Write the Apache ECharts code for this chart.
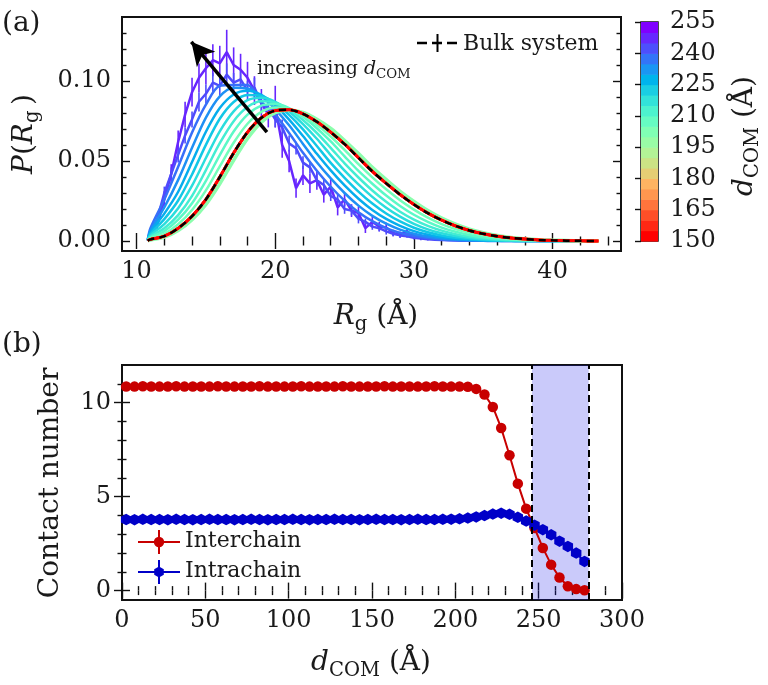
<!DOCTYPE html>
<html>
<head>
<meta charset="utf-8">
<script src="https://cdn.jsdelivr.net/npm/echarts@6.0.0/dist/echarts.min.js"></script>
<style>
html,body{margin:0;padding:0;background:#ffffff;}
#chart{width:768px;height:685px;}
</style>
</head>
<body>
<div id="chart"></div>
<script>
// ================= Panel (a): P(Rg) for several d_COM =================
const rgGrid = [10.8, 11, 12, 13, 14, 15, 16, 17, 18, 19, 20, 21, 22, 23, 24, 25, 26, 27, 28, 29, 30, 31, 32, 33, 34, 35, 36, 37, 38, 39, 40, 41, 42, 43.3];
const rgFine = [10.8, 11, 11.5, 12, 12.5, 13, 13.5, 14, 14.5, 15, 15.5, 16, 16.5, 17, 17.5, 18, 18.5, 19, 19.5, 20, 20.5, 21, 21.5, 22, 22.5, 23, 23.5, 24, 24.5, 25, 25.5, 26, 26.5, 27, 27.5, 28, 28.5, 29, 29.5, 30, 30.5, 31, 31.5, 32, 32.5, 33, 33.5, 34];

// bulk system (also the d_COM = 150..195 curves, which lie on top of it)
const pBulk = [0.0003, 0.001, 0.003, 0.008, 0.0155, 0.026, 0.040, 0.055, 0.068, 0.077, 0.0815, 0.082, 0.0795, 0.0745, 0.068, 0.0605, 0.052, 0.0435, 0.036, 0.029, 0.0228, 0.0174, 0.013, 0.0094, 0.0066, 0.0045, 0.003, 0.0019, 0.0012, 0.0007, 0.0004, 0.0002, 0.0001, 0.0];
const p200 = [0.0002, 0.0007, 0.0024, 0.0065, 0.0133, 0.0229, 0.0358, 0.0505, 0.0641, 0.0743, 0.0802, 0.0819, 0.0803, 0.076, 0.0703, 0.0628, 0.0546, 0.046, 0.0383, 0.031, 0.0247, 0.019, 0.0143, 0.0105, 0.0074, 0.0051, 0.0034, 0.0022, 0.0014, 0.0008, 0.0005, 0.0003, 0.0001, 0.0];
const p205 = [0.0003, 0.0016, 0.0045, 0.0105, 0.0194, 0.0316, 0.0466, 0.0614, 0.0733, 0.0807, 0.0835, 0.0826, 0.0787, 0.0726, 0.0653, 0.0569, 0.0480, 0.0398, 0.0323, 0.0255, 0.0196, 0.0146, 0.0106, 0.0075, 0.0051, 0.0034, 0.0022, 0.0013, 0.0008, 0.0004, 0.0002, 0.0001, 0, 0];
const p210 = [0.0003, 0.0022, 0.0062, 0.0133, 0.0236, 0.0376, 0.0537, 0.0684, 0.0790, 0.0846, 0.0856, 0.0831, 0.0776, 0.0705, 0.0622, 0.0529, 0.0438, 0.0358, 0.0284, 0.0219, 0.0164, 0.0120, 0.0084, 0.0058, 0.0038, 0.0024, 0.0015, 0.0009, 0.0005, 0.0003, 0.0001, 0, 0, 0];
const p215 = [0.0003, 0.0027, 0.0080, 0.0162, 0.0282, 0.0443, 0.0611, 0.0749, 0.0837, 0.0873, 0.0864, 0.0822, 0.0756, 0.0675, 0.0582, 0.0485, 0.0397, 0.0316, 0.0245, 0.0183, 0.0134, 0.0095, 0.0065, 0.0043, 0.0027, 0.0017, 0.0010, 0.0006, 0.0003, 0.0001, 0.0001, 0, 0, 0];
const p220 = [0.0003, 0.0035, 0.0105, 0.0205, 0.0346, 0.0519, 0.0685, 0.0810, 0.0880, 0.0895, 0.0870, 0.0810, 0.0731, 0.0639, 0.0537, 0.0440, 0.0354, 0.0276, 0.0208, 0.0152, 0.0107, 0.0073, 0.0048, 0.0031, 0.0019, 0.0011, 0.0006, 0.0003, 0.0001, 0.0001, 0, 0, 0, 0];
const p225 = [0.0003, 0.0045, 0.0137, 0.0253, 0.0416, 0.0601, 0.0764, 0.0869, 0.0913, 0.0907, 0.0861, 0.0788, 0.0698, 0.0594, 0.0488, 0.0395, 0.0309, 0.0234, 0.0172, 0.0122, 0.0083, 0.0055, 0.0035, 0.0021, 0.0012, 0.0007, 0.0003, 0.0001, 0, 0, 0, 0, 0, 0];
const p230 = [0.0004, 0.0055, 0.0171, 0.0308, 0.0494, 0.0683, 0.0831, 0.0916, 0.0939, 0.0913, 0.0847, 0.0759, 0.0656, 0.0545, 0.0441, 0.0347, 0.0264, 0.0194, 0.0138, 0.0095, 0.0062, 0.0040, 0.0024, 0.0014, 0.0008, 0.0004, 0.0002, 0.0001, 0, 0, 0, 0, 0, 0];
const p235 = [0.0004, 0.0065, 0.0210, 0.0382, 0.0583, 0.0771, 0.0904, 0.0958, 0.0953, 0.0904, 0.0823, 0.0723, 0.0607, 0.0492, 0.0391, 0.0300, 0.0221, 0.0157, 0.0108, 0.0071, 0.0045, 0.0027, 0.0016, 0.0008, 0.0005, 0.0002, 0.0001, 0, 0, 0, 0, 0, 0, 0];
const p240 = [0.0005, 0.0080, 0.0260, 0.0464, 0.0678, 0.0852, 0.0970, 0.0975, 0.0975, 0.0870, 0.0790, 0.0675, 0.0551, 0.0439, 0.0339, 0.0252, 0.0180, 0.0124, 0.0081, 0.0051, 0.0031, 0.0018, 0.0010, 0.0005, 0.0002, 0.0001, 0, 0, 0, 0, 0, 0, 0, 0];
const p245 = [0.0005, 0.006, 0.014, 0.030, 0.042, 0.054, 0.066, 0.076, 0.087, 0.092, 0.099, 0.097, 0.104, 0.099, 0.101, 0.094, 0.096, 0.086, 0.083, 0.076, 0.071, 0.061, 0.058, 0.049, 0.046, 0.038, 0.035, 0.028, 0.026, 0.020, 0.019, 0.014, 0.012, 0.009, 0.008, 0.006, 0.0045, 0.0035, 0.003, 0.002, 0.0015, 0.0011, 0.0008, 0.0006, 0.0004, 0.0003, 0.0002, 0.0001];
const e245 = [0.0003, 0.002, 0.003, 0.004, 0.004, 0.005, 0.005, 0.005, 0.006, 0.006, 0.006, 0.006, 0.007, 0.006, 0.006, 0.006, 0.006, 0.005, 0.005, 0.005, 0.005, 0.005, 0.004, 0.004, 0.004, 0.004, 0.004, 0.003, 0.003, 0.003, 0.003, 0.003, 0.002, 0.002, 0.002, 0.002, 0.0015, 0.0015, 0.001, 0.001, 0.001, 0.0008, 0.0006, 0.0005, 0.0004, 0.0003, 0.0002, 0.0001];
const p250 = [0.0005, 0.004, 0.010, 0.026, 0.042, 0.062, 0.079, 0.093, 0.102, 0.108, 0.113, 0.111, 0.118, 0.110, 0.107, 0.102, 0.094, 0.086, 0.079, 0.084, 0.060, 0.050, 0.033, 0.041, 0.036, 0.038, 0.029, 0.034, 0.021, 0.026, 0.019, 0.0175, 0.008, 0.012, 0.009, 0.0085, 0.005, 0.004, 0.006, 0.003, 0.0025, 0.003, 0.0015, 0.002, 0.0008, 0.001, 0.0005, 0.0003];
const e250 = [0.0003, 0.002, 0.003, 0.005, 0.006, 0.007, 0.008, 0.009, 0.009, 0.010, 0.010, 0.011, 0.014, 0.011, 0.010, 0.010, 0.009, 0.009, 0.008, 0.013, 0.008, 0.007, 0.006, 0.006, 0.006, 0.006, 0.005, 0.005, 0.005, 0.004, 0.004, 0.004, 0.003, 0.003, 0.003, 0.003, 0.002, 0.002, 0.002, 0.0015, 0.0015, 0.0015, 0.001, 0.001, 0.0008, 0.0008, 0.0005, 0.0003];

const dCurves = [250, 245, 240, 235, 230, 225, 220, 215, 210, 205, 200, 195, 190, 185, 180, 175, 170, 165, 160, 155, 150];
const curveData = {
  250: [rgFine, p250], 245: [rgFine, p245], 240: [rgGrid, p240], 235: [rgGrid, p235], 230: [rgGrid, p230],
  225: [rgGrid, p225], 220: [rgGrid, p220], 215: [rgGrid, p215], 210: [rgGrid, p210], 205: [rgGrid, p205],
  200: [rgGrid, p200], 195: [rgGrid, pBulk], 190: [rgGrid, pBulk], 185: [rgGrid, pBulk], 180: [rgGrid, pBulk],
  175: [rgGrid, pBulk], 170: [rgGrid, pBulk], 165: [rgGrid, pBulk], 160: [rgGrid, pBulk], 155: [rgGrid, pBulk], 150: [rgGrid, pBulk]
};

// colorbar bands and ticks
const cbEdges = [150, 155, 160, 165, 170, 175, 180, 185, 190, 195, 200, 205, 210, 215, 220, 225, 230, 235, 240, 245, 250, 255];
const cbMajor = [150, 165, 180, 195, 210, 225, 240, 255];
const cbMinor = [153.75, 157.5, 161.25, 168.75, 172.5, 176.25, 183.75, 187.5, 191.25, 198.75, 202.5, 206.25, 213.75, 217.5, 221.25, 228.75, 232.5, 236.25, 243.75, 247.5, 251.25];

// panel (a) axis ticks
const aXMajor = [10, 20, 30, 40];
const aXMinor = [12, 14, 16, 18, 22, 24, 26, 28, 32, 34, 36, 38, 42, 44];
const aYMajor = [0, 0.05, 0.10];
const aYMinor = [0.01, 0.02, 0.03, 0.04, 0.06, 0.07, 0.08, 0.09, 0.11, 0.12, 0.13];

// ================= Panel (b): contact numbers =================
const dCOM = [2.5, 7.5, 12.5, 17.5, 22.5, 27.5, 32.5, 37.5, 42.5, 47.5,
  52.5, 57.5, 62.5, 67.5, 72.5, 77.5, 82.5, 87.5, 92.5, 97.5,
  102.5, 107.5, 112.5, 117.5, 122.5, 127.5, 132.5, 137.5, 142.5, 147.5,
  152.5, 157.5, 162.5, 167.5, 172.5, 177.5, 182.5, 187.5, 192.5, 197.5,
  202.5, 207.5, 212.5, 217.5, 222.5, 227.5, 232.5, 237.5, 242.5, 247.5,
  252.5, 257.5, 262.5, 267.5, 272.5, 277.5];
const interchain = [10.86, 10.85, 10.87, 10.86, 10.85, 10.86, 10.87, 10.85, 10.86, 10.86,
  10.85, 10.87, 10.86, 10.85, 10.86, 10.86, 10.87, 10.85, 10.86, 10.85,
  10.86, 10.87, 10.85, 10.86, 10.86, 10.85, 10.87, 10.86, 10.85, 10.86,
  10.86, 10.87, 10.85, 10.86, 10.86, 10.85, 10.86, 10.87, 10.86, 10.85,
  10.86, 10.84, 10.73, 10.43, 9.77, 8.65, 7.20, 5.69, 4.36, 3.33,
  2.27, 1.38, 0.70, 0.23, 0.08, 0.02];
const intrachain = [3.78, 3.77, 3.79, 3.78, 3.78, 3.77, 3.79, 3.78, 3.77, 3.78,
  3.79, 3.78, 3.78, 3.77, 3.78, 3.79, 3.78, 3.77, 3.78, 3.78,
  3.79, 3.78, 3.77, 3.78, 3.78, 3.79, 3.78, 3.78, 3.77, 3.78,
  3.79, 3.78, 3.78, 3.77, 3.78, 3.79, 3.78, 3.78, 3.79, 3.80,
  3.82, 3.86, 3.92, 3.99, 4.07, 4.12, 4.06, 3.90, 3.70, 3.48,
  3.24, 2.97, 2.63, 2.35, 2.00, 1.55];
const shadeRange = [246, 280];

const bXMajor = [0, 50, 100, 150, 200, 250, 300];
const bXMinor = [10, 20, 30, 40, 60, 70, 80, 90, 110, 120, 130, 140, 160, 170, 180, 190, 210, 220, 230, 240, 260, 270, 280, 290];
const bYMajor = [0, 5, 10];
const bYMinor = [1, 2, 3, 4, 6, 7, 8, 9, 11];

// ================= styling helpers =================
const FONT = 'DejaVu Serif';
const INK = '#1a1a1a';
const RED = '#c80000';
const BLUE = '#0000c8';

function rainbow(t) {
  const r = Math.min(1, Math.abs(2 * t - 0.5));
  const g = Math.max(0, Math.sin(Math.PI * t));
  const b = Math.max(0, Math.cos(Math.PI * t / 2));
  return 'rgb(' + Math.round(r * 255) + ',' + Math.round(g * 255) + ',' + Math.round(b * 255) + ')';
}
// continuous colour scale 150 (red) .. 255 (violet)
function dColor(d) { return rainbow(Math.max(0, Math.min(1, (255 - d) / 105))); }
// discrete colorbar band colours
function bandColor(i, n) { return rainbow(1 - i / (n - 1)); }

function vAxis(o) {
  return {
    type: 'value', gridIndex: o.grid, position: o.pos, min: o.min, max: o.max,
    axisLine: { show: false }, splitLine: { show: false }, splitArea: { show: false },
    axisTick: { show: true, inside: true, length: o.len, customValues: o.ticks, lineStyle: { color: '#111', width: 1.4 } },
    axisLabel: o.labels ? { show: true, customValues: o.labels, formatter: o.fmt, fontFamily: FONT, fontSize: 24, color: INK, margin: o.margin } : { show: false },
    axisPointer: { show: false }
  };
}

const xAxes = [
  vAxis({ grid: 0, pos: 'bottom', min: 8.95, max: 44.93, len: 8, ticks: aXMajor, labels: aXMajor, fmt: v => String(v), margin: 9 }),
  vAxis({ grid: 0, pos: 'bottom', min: 8.95, max: 44.93, len: 4.5, ticks: aXMinor }),
  vAxis({ grid: 0, pos: 'top', min: 8.95, max: 44.93, len: 8, ticks: aXMajor }),
  vAxis({ grid: 0, pos: 'top', min: 8.95, max: 44.93, len: 4.5, ticks: aXMinor }),
  vAxis({ grid: 1, pos: 'bottom', min: 0, max: 300, len: 8, ticks: bXMajor, labels: bXMajor, fmt: v => String(v), margin: 9 }),
  vAxis({ grid: 1, pos: 'bottom', min: 0, max: 300, len: 4.5, ticks: bXMinor }),
  vAxis({ grid: 1, pos: 'top', min: 0, max: 300, len: 8, ticks: bXMajor }),
  vAxis({ grid: 1, pos: 'top', min: 0, max: 300, len: 4.5, ticks: bXMinor }),
  { type: 'value', gridIndex: 2, min: 0, max: 1, show: false }
];
const yAxes = [
  vAxis({ grid: 0, pos: 'left', min: -0.00625, max: 0.14, len: 8, ticks: aYMajor, labels: aYMajor, fmt: v => v.toFixed(2), margin: 11 }),
  vAxis({ grid: 0, pos: 'left', min: -0.00625, max: 0.14, len: 4.5, ticks: aYMinor }),
  vAxis({ grid: 0, pos: 'right', min: -0.00625, max: 0.14, len: 8, ticks: aYMajor }),
  vAxis({ grid: 0, pos: 'right', min: -0.00625, max: 0.14, len: 4.5, ticks: aYMinor }),
  vAxis({ grid: 1, pos: 'left', min: -0.5, max: 12, len: 8, ticks: bYMajor, labels: bYMajor, fmt: v => String(v), margin: 11 }),
  vAxis({ grid: 1, pos: 'left', min: -0.5, max: 12, len: 4.5, ticks: bYMinor }),
  vAxis({ grid: 1, pos: 'right', min: -0.5, max: 12, len: 8, ticks: bYMajor }),
  vAxis({ grid: 1, pos: 'right', min: -0.5, max: 12, len: 4.5, ticks: bYMinor }),
  vAxis({ grid: 2, pos: 'right', min: 150, max: 255, len: 6, ticks: cbMajor, labels: cbMajor, fmt: v => String(v), margin: 12 }),
  vAxis({ grid: 2, pos: 'right', min: 150, max: 255, len: 3.5, ticks: cbMinor })
];

// ================= series =================
const series = [];
dCurves.forEach(d => {
  const xs = curveData[d][0], ys = curveData[d][1];
  series.push({
    type: 'line', xAxisIndex: 0, yAxisIndex: 0, silent: true, z: 2,
    data: xs.map((x, i) => [x, ys[i]]),
    showSymbol: false, symbol: 'none',
    smooth: xs === rgGrid ? 0.3 : false,
    lineStyle: { color: dColor(d), width: d === 200 ? 3.6 : (d === 150 ? 3 : 2.5) }
  });
  if (d === 250 || d === 245) {
    const es = d === 250 ? e250 : e245;
    const col = dColor(d);
    series.push({
      type: 'custom', xAxisIndex: 0, yAxisIndex: 0, silent: true, z: 2, clip: true,
      data: xs.map((x, i) => [x, ys[i], es[i]]),
      encode: { x: 0, y: 1 },
      renderItem: (params, api) => {
        const x = api.value(0), y = api.value(1), e = api.value(2);
        const a = api.coord([x, y - e]), b = api.coord([x, y + e]);
        return { type: 'line', shape: { x1: a[0], y1: a[1], x2: b[0], y2: b[1] }, style: { stroke: col, lineWidth: 1.6 } };
      }
    });
  }
});
// bulk system dashed line + arrow annotation
series.push({
  type: 'line', xAxisIndex: 0, yAxisIndex: 0, silent: true, z: 4,
  data: rgGrid.map((x, i) => [x, pBulk[i]]),
  showSymbol: false, symbol: 'none', smooth: 0.3,
  lineStyle: { color: '#000', width: 2.5, type: [7, 5] },
  markLine: {
    silent: true, symbol: ['none', 'arrow'], symbolSize: [18, 23],
    label: { show: false },
    lineStyle: { color: '#000', width: 3.5, type: 'solid' },
    data: [[{ coord: [19.40, 0.0681] }, { coord: [13.95, 0.1245] }]]
  }
});

// colorbar
const nBands = cbEdges.length - 1;
series.push({
  type: 'custom', xAxisIndex: 8, yAxisIndex: 8, silent: true, z: 1,
  data: cbEdges.slice(0, -1).map((lo, i) => [0, lo, cbEdges[i + 1], i]),
  encode: { x: 0, y: [1, 2] },
  renderItem: (params, api) => {
    const lo = api.value(1), hi = api.value(2), i = api.value(3);
    const a = api.coord([0, hi]), b = api.coord([1, lo]);
    return { type: 'rect', shape: { x: a[0], y: a[1], width: b[0] - a[0], height: b[1] - a[1] + 0.6 }, style: { fill: bandColor(i, nBands) } };
  }
});

// panel (b): shaded window
series.push({
  type: 'line', xAxisIndex: 4, yAxisIndex: 4, data: [], silent: true, z: 1,
  markArea: { silent: true, itemStyle: { color: 'rgba(25,25,235,0.23)' }, data: [[{ xAxis: shadeRange[0] }, { xAxis: shadeRange[1] }]] },
  markLine: { silent: true, symbol: ['none', 'none'], label: { show: false },
    lineStyle: { color: '#000', type: [7, 4], width: 2 },
    data: [{ xAxis: shadeRange[0] }, { xAxis: shadeRange[1] }] }
});
series.push({
  type: 'line', name: 'Interchain', xAxisIndex: 4, yAxisIndex: 4, silent: true, z: 3,
  data: dCOM.map((x, i) => [x, interchain[i]]),
  symbol: 'circle', symbolSize: 10.5, showAllSymbol: true,
  lineStyle: { color: RED, width: 2 }, itemStyle: { color: RED, borderWidth: 0 }
});
const HEX = 'path://M0,-10 L8.66,-5 L8.66,5 L0,10 L-8.66,5 L-8.66,-5 Z';
series.push({
  type: 'line', name: 'Intrachain', xAxisIndex: 4, yAxisIndex: 4, silent: true, z: 3,
  data: dCOM.map((x, i) => [x, intrachain[i]]),
  symbol: HEX, symbolSize: [10.5, 11.5], showAllSymbol: true,
  lineStyle: { color: BLUE, width: 2 }, itemStyle: { color: BLUE, borderWidth: 0 }
});

// ================= text (math-like labels) =================
const mctx = document.createElement('canvas').getContext('2d');
function mathText(parts, size, x, y, align, rot) {
  let cx = 0;
  const kids = [];
  parts.forEach(p => {
    const t = p[0], f = p[1] || '';
    const sub = f.indexOf('s') >= 0, it = f.indexOf('i') >= 0;
    const sz = sub ? size * 0.7 : size;
    mctx.font = (it ? 'italic ' : '') + sz + 'px "' + FONT + '"';
    const w = mctx.measureText(t).width;
    kids.push({ type: 'text', x: cx, y: sub ? size * 0.28 : 0, silent: true,
      style: { text: t, fontFamily: FONT, fontSize: sz, fontStyle: it ? 'italic' : 'normal', fill: INK, textAlign: 'left', textVerticalAlign: 'middle' } });
    cx += w;
  });
  const off = align === 'center' ? -cx / 2 : 0;
  kids.forEach(k => { k.x += off; });
  return { type: 'group', x: x, y: y, rotation: rot || 0, silent: true, children: kids };
}

const graphics = [
  mathText([['(a)']], 28, 2, 24, 'left'),
  mathText([['(b)']], 28, 2, 345, 'left'),
  mathText([['P', 'i'], ['('], ['R', 'i'], ['g', 's'], ['\u2009)']], 28, 25, 134, 'center', Math.PI / 2),
  mathText([['R', 'i'], ['g', 's'], [' (\u00c5)']], 28, 376, 317, 'center'),
  mathText([['Contact number']], 28, 51, 483, 'center', Math.PI / 2),
  mathText([['d', 'i'], ['COM', 's'], [' (\u00c5)']], 28, 371, 663, 'center'),
  mathText([['d', 'i'], ['COM', 's'], [' (\u00c5)']], 28, 745, 136, 'center', Math.PI / 2),
  mathText([['increasing '], ['d', 'i'], ['COM', 's']], 19, 257, 69, 'left'),
  // legend (a)
  { type: 'line', silent: true, z: 10, shape: { x1: 417, y1: 43, x2: 458, y2: 43 }, style: { stroke: '#000', lineWidth: 2.5, lineDash: [10, 5] } },
  { type: 'line', silent: true, z: 10, shape: { x1: 437.5, y1: 34, x2: 437.5, y2: 52 }, style: { stroke: '#000', lineWidth: 2 } },
  mathText([['Bulk system']], 22, 463, 44, 'left'),
  // legend (b)
  { type: 'line', silent: true, z: 10, shape: { x1: 138, y1: 542, x2: 180, y2: 542 }, style: { stroke: RED, lineWidth: 2 } },
  { type: 'line', silent: true, z: 10, shape: { x1: 159, y1: 530, x2: 159, y2: 554 }, style: { stroke: RED, lineWidth: 2 } },
  { type: 'circle', silent: true, z: 10, shape: { cx: 159, cy: 542, r: 5.2 }, style: { fill: RED } },
  mathText([['Interchain']], 22, 185, 541, 'left'),
  { type: 'line', silent: true, z: 10, shape: { x1: 138, y1: 572, x2: 180, y2: 572 }, style: { stroke: BLUE, lineWidth: 2 } },
  { type: 'line', silent: true, z: 10, shape: { x1: 159, y1: 560, x2: 159, y2: 584 }, style: { stroke: BLUE, lineWidth: 2 } },
  { type: 'polygon', silent: true, z: 10, shape: { points: [[159, 566.5], [163.8, 569.2], [163.8, 574.8], [159, 577.5], [154.2, 574.8], [154.2, 569.2]] }, style: { fill: BLUE } },
  mathText([['Intrachain']], 22, 185, 571, 'left')
];

const chart = echarts.init(document.getElementById('chart'), null, { renderer: 'canvas' });
chart.setOption({
  animation: false,
  backgroundColor: '#ffffff',
  grid: [
    { left: 122, top: 17, width: 499, height: 234, show: true, borderColor: '#111', borderWidth: 2, backgroundColor: 'rgba(0,0,0,0)' },
    { left: 122, top: 365, width: 500, height: 235, show: true, borderColor: '#111', borderWidth: 2, backgroundColor: 'rgba(0,0,0,0)' },
    { left: 641, top: 22, width: 17, height: 219, show: true, borderColor: '#111', borderWidth: 1.5, backgroundColor: 'rgba(0,0,0,0)' }
  ],
  xAxis: xAxes,
  yAxis: yAxes,
  series: series,
  graphic: { elements: graphics }
});
</script>
</body>
</html>
